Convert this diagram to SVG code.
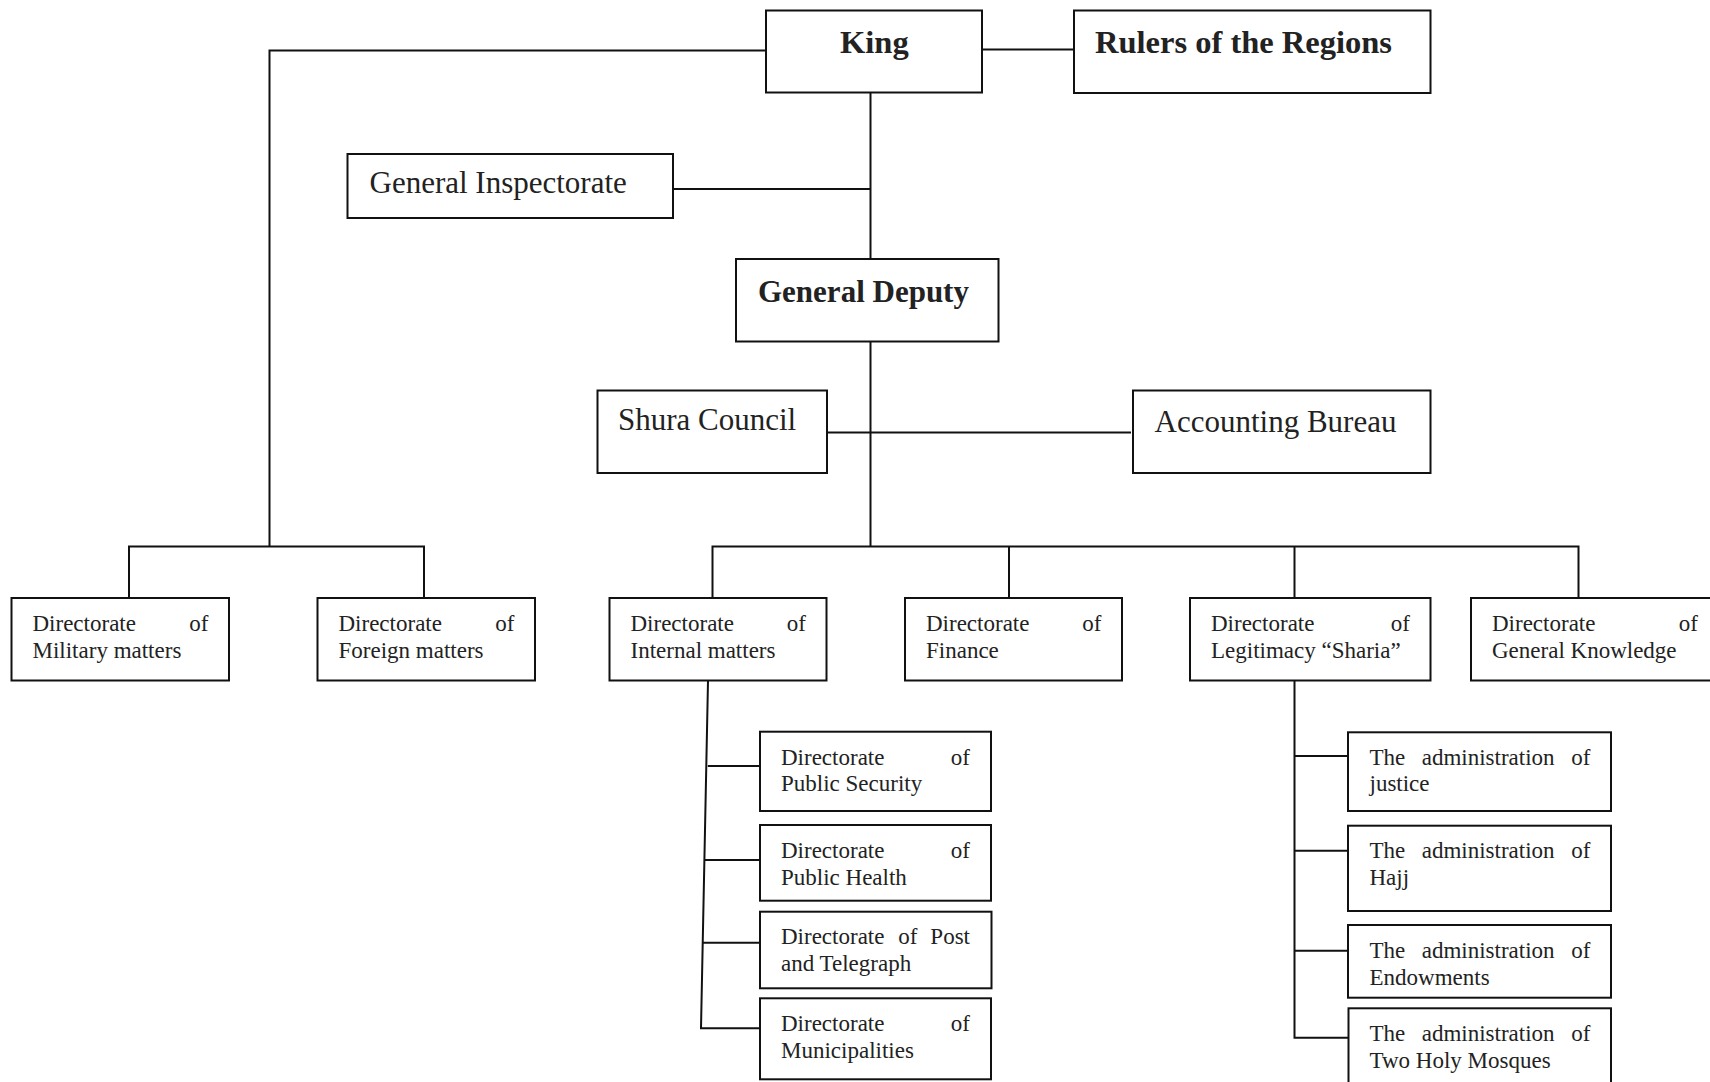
<svg xmlns="http://www.w3.org/2000/svg" width="1710" height="1082" viewBox="0 0 1710 1082">
  <style>
    .box { fill: #ffffff; stroke: #111111; stroke-width: 2; }
    .ln { fill: none; stroke: #111111; stroke-width: 2; }
    text { font-family: "Liberation Serif", "Times New Roman", serif; fill: #222222; }
    .hd { font-size: 32.5px; font-weight: bold; }
    .lg { font-size: 31px; }
    .sm { font-size: 23px; }
    .r { text-anchor: end; }
  </style>
  <rect width="1710" height="1082" fill="#ffffff"/>

  <!-- connectors -->
  <g id="connectors" class="ln">
    <path d="M766 50.5 H269.5 V546.5"/>
    <path d="M129 598 V546.5 H424 V598"/>
    <path d="M982 49.5 H1074"/>
    <path d="M870.5 93 V259"/>
    <path d="M673 189 H870.5"/>
    <path d="M870.5 342 V546.5"/>
    <path d="M827 432.5 H1131"/>
    <path d="M712.5 598 V546.5 H1578.5 V598"/>
    <path d="M1009 546.5 V598"/>
    <path d="M1294.5 546.5 V598"/>
    <!-- internal matters branch -->
    <path d="M708 681 L701 1028.3 H760"/>
    <path d="M707.8 766 H760"/>
    <path d="M704.4 860 H760"/>
    <path d="M702.5 942.7 H760"/>
    <!-- sharia branch -->
    <path d="M1294.5 681 V1037.7 H1348"/>
    <path d="M1294.5 756 H1348"/>
    <path d="M1294.5 850.7 H1348"/>
    <path d="M1294.5 950.7 H1348"/>
  </g>

  <g id="king">
    <rect class="box" x="766" y="10.5" width="216" height="82"/>
    <text class="hd" x="840" y="53">King</text>
  </g>
  <g id="rulers">
    <rect class="box" x="1074" y="10.5" width="356.5" height="82.5"/>
    <text class="hd" x="1095" y="53">Rulers of the Regions</text>
  </g>
  <g id="inspectorate">
    <rect class="box" x="347.5" y="154" width="325.5" height="64"/>
    <text class="lg" x="369.5" y="192.5">General Inspectorate</text>
  </g>
  <g id="deputy">
    <rect class="box" x="736" y="259" width="262.5" height="82.5"/>
    <text class="hd" x="758" y="301.5" style="font-size:31px">General Deputy</text>
  </g>
  <g id="shura">
    <rect class="box" x="597.5" y="390.5" width="229.5" height="82.5"/>
    <text class="lg" x="618" y="430">Shura Council</text>
  </g>
  <g id="accounting">
    <rect class="box" x="1133" y="390.5" width="297.5" height="82.5"/>
    <text class="lg" x="1154.5" y="431.5">Accounting Bureau</text>
  </g>

  <g id="military">
    <rect class="box" x="11.5" y="598" width="217.5" height="82.5"/>
    <text class="sm" x="32.5" y="631">Directorate</text>
    <text class="sm r" x="208.5" y="631">of</text>
    <text class="sm" x="32.5" y="658">Military matters</text>
  </g>
  <g id="foreign">
    <rect class="box" x="317.5" y="598" width="217.5" height="82.5"/>
    <text class="sm" x="338.5" y="631">Directorate</text>
    <text class="sm r" x="514.5" y="631">of</text>
    <text class="sm" x="338.5" y="658">Foreign matters</text>
  </g>
  <g id="internal">
    <rect class="box" x="609.5" y="598" width="217" height="82.5"/>
    <text class="sm" x="630.5" y="631">Directorate</text>
    <text class="sm r" x="806" y="631">of</text>
    <text class="sm" x="630.5" y="658">Internal matters</text>
  </g>
  <g id="finance">
    <rect class="box" x="905" y="598" width="217" height="82.5"/>
    <text class="sm" x="926" y="631">Directorate</text>
    <text class="sm r" x="1101.5" y="631">of</text>
    <text class="sm" x="926" y="658">Finance</text>
  </g>
  <g id="sharia">
    <rect class="box" x="1190" y="598" width="240.5" height="82.5"/>
    <text class="sm" x="1211" y="631">Directorate</text>
    <text class="sm r" x="1410" y="631">of</text>
    <text class="sm" x="1211" y="658">Legitimacy “Sharia”</text>
  </g>
  <g id="knowledge">
    <rect class="box" x="1471" y="598" width="260" height="82.5"/>
    <text class="sm" x="1492" y="631">Directorate</text>
    <text class="sm r" x="1698" y="631">of</text>
    <text class="sm" x="1492" y="658">General Knowledge</text>
  </g>

  <g id="security">
    <rect class="box" x="760" y="731.7" width="231" height="79.3"/>
    <text class="sm" x="781" y="764.5">Directorate</text>
    <text class="sm r" x="970" y="764.5">of</text>
    <text class="sm" x="781" y="791">Public Security</text>
  </g>
  <g id="health">
    <rect class="box" x="760" y="825" width="231" height="75.7"/>
    <text class="sm" x="781" y="857.5">Directorate</text>
    <text class="sm r" x="970" y="857.5">of</text>
    <text class="sm" x="781" y="884.5">Public Health</text>
  </g>
  <g id="post">
    <rect class="box" x="760" y="911.7" width="231.5" height="76.6"/>
    <text class="sm" x="781" y="944">Directorate</text>
    <text class="sm" x="898.3" y="944">of</text>
    <text class="sm r" x="970" y="944">Post</text>
    <text class="sm" x="781" y="971">and Telegraph</text>
  </g>
  <g id="municipalities">
    <rect class="box" x="760" y="998.3" width="231" height="81"/>
    <text class="sm" x="781" y="1031">Directorate</text>
    <text class="sm r" x="970" y="1031">of</text>
    <text class="sm" x="781" y="1058">Municipalities</text>
  </g>

  <g id="justice">
    <rect class="box" x="1348" y="732.3" width="263" height="78.7"/>
    <text class="sm" x="1369.5" y="764.5">The</text>
    <text class="sm" x="1421.7" y="764.5">administration</text>
    <text class="sm r" x="1590.5" y="764.5">of</text>
    <text class="sm" x="1369.5" y="791">justice</text>
  </g>
  <g id="hajj">
    <rect class="box" x="1348" y="825.7" width="263" height="85.3"/>
    <text class="sm" x="1369.5" y="858">The</text>
    <text class="sm" x="1421.7" y="858">administration</text>
    <text class="sm r" x="1590.5" y="858">of</text>
    <text class="sm" x="1369.5" y="885">Hajj</text>
  </g>
  <g id="endowments">
    <rect class="box" x="1348" y="925" width="263" height="72.7"/>
    <text class="sm" x="1369.5" y="957.5">The</text>
    <text class="sm" x="1421.7" y="957.5">administration</text>
    <text class="sm r" x="1590.5" y="957.5">of</text>
    <text class="sm" x="1369.5" y="984.5">Endowments</text>
  </g>
  <g id="mosques">
    <rect class="box" x="1348.5" y="1008.3" width="262.5" height="100"/>
    <text class="sm" x="1369.5" y="1040.5">The</text>
    <text class="sm" x="1421.7" y="1040.5">administration</text>
    <text class="sm r" x="1590.5" y="1040.5">of</text>
    <text class="sm" x="1369.5" y="1067.5">Two Holy Mosques</text>
  </g>
</svg>
